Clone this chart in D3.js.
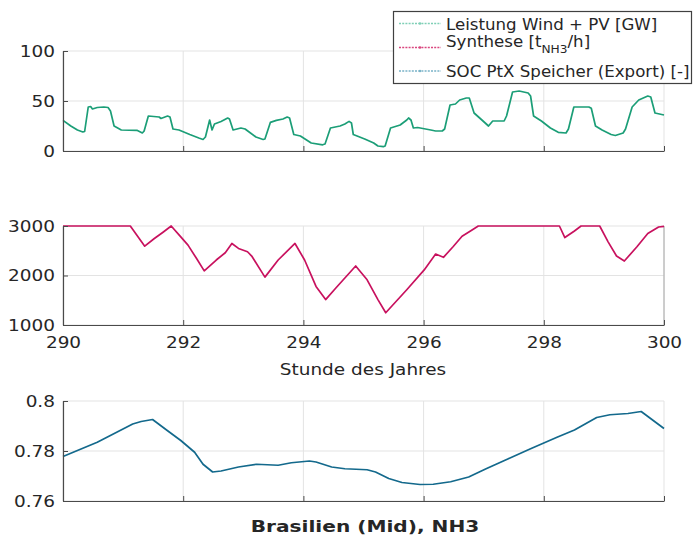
<!DOCTYPE html>
<html><head><meta charset="utf-8">
<script src="https://cdn.jsdelivr.net/npm/d3@7"></script>
<style>html,body{margin:0;padding:0;background:#fff;} text{font-family:"DejaVu Sans",sans-serif;fill:#262626;}</style>
</head><body>
<svg id="c" width="693" height="539"></svg>
<script>
// ---- data ----
const xTicks = [290, 292, 294, 296, 298, 300];
const y1Ticks = [0, 50, 100];
const y2Ticks = [1000, 2000, 3000];
const y3Ticks = [0.76, 0.78, 0.8];
const y3TickLabels = ["0.76", "0.78", "0.8"];

const windHours = [290.00,290.13,290.24,290.33,290.36,290.42,290.46,290.49,290.57,290.68,290.75,290.79,290.85,290.97,291.23,291.32,291.35,291.42,291.60,291.63,291.74,291.78,291.83,291.93,292.11,292.26,292.33,292.37,292.44,292.48,292.52,292.63,292.74,292.77,292.83,292.96,293.03,293.21,293.33,293.36,293.45,293.55,293.66,293.73,293.77,293.84,293.95,294.13,294.32,294.36,294.45,294.61,294.69,294.76,294.80,294.83,295.02,295.17,295.24,295.33,295.36,295.45,295.61,295.72,295.75,295.79,295.83,295.90,296.12,296.20,296.31,296.35,296.44,296.53,296.60,296.71,296.76,296.84,296.97,297.08,297.15,297.34,297.38,297.48,297.59,297.74,297.78,297.83,297.96,298.11,298.24,298.37,298.41,298.50,298.75,298.79,298.86,298.97,299.12,299.19,299.32,299.36,299.47,299.58,299.73,299.78,299.85,300.00];
const windValues = [30.6,25,21,19,19.5,44,44.5,42,43.5,44,43.5,40,25,21,20.7,18,20,35,34,32.5,35,34,22,21,16.5,13,11.5,14,31,21,27,29.5,33,32,21,23,22,14,11.5,12,28.6,30.6,32,34,33,16.5,15,8,6.2,7,23,25,27,29.6,28,16.5,12,8,5,4.3,5,23,26,31,33,31,23,23.5,21,20,20,22,46,47,51,53,53,38,31,25,30,30,35,59,60,58,55,35,30,23,18.7,18,22,44,44,42.7,25,21,16.5,15.5,18,22,44,51,55,54,38,36];

const synHours = [290.00,291.12,291.36,291.52,291.67,291.80,291.96,292.08,292.22,292.35,292.55,292.70,292.81,292.92,293.07,293.14,293.36,293.58,293.86,294.02,294.21,294.37,294.54,294.87,295.06,295.24,295.37,295.72,296.01,296.20,296.33,296.49,296.64,296.78,296.91,298.26,298.35,298.51,298.62,298.93,299.07,299.21,299.34,299.55,299.73,299.91,300.00];
const synValues = [3000,3000,2593,2747,2880,3000,2780,2613,2347,2093,2313,2460,2647,2547,2480,2393,1967,2313,2647,2313,1780,1513,1747,2193,1913,1513,1247,1713,2113,2433,2367,2580,2793,2900,3000,3000,2767,2900,3000,3000,2680,2393,2293,2580,2847,2980,2993];

const socHours = [290.00,290.57,291.16,291.30,291.49,291.74,291.96,292.19,292.33,292.49,292.63,292.92,293.22,293.58,293.80,294.10,294.21,294.47,294.69,295.06,295.20,295.42,295.64,295.94,296.16,296.45,296.75,297.04,297.41,297.78,298.22,298.51,298.88,299.10,299.40,299.62,300.00];
const socValues = [0.7778,0.7835,0.7908,0.7918,0.7926,0.7881,0.7842,0.7795,0.7747,0.7716,0.7720,0.7736,0.7747,0.7743,0.7753,0.7760,0.7756,0.7736,0.7729,0.7725,0.7716,0.7690,0.7674,0.7666,0.7667,0.7677,0.7696,0.7729,0.7769,0.7809,0.7855,0.7884,0.7934,0.7945,0.7950,0.7958,0.7890];

const legendLabels = ["Leistung Wind + PV [GW]", "Synthese [t", "SOC PtX Speicher (Export) [-]"];
const xLabel = "Stunde des Jahres";
const title = "Brasilien (Mid), NH3";

// ---- drawing ----
const svg = d3.select("#c");
const K = 1.12; // horizontal text stretch of the picture
function stretch(sel, k) {
  sel.each(function () {
    const t = d3.select(this);
    const x = +t.attr("x") || 0, y = +t.attr("y") || 0;
    t.attr("x", 0).attr("y", 0).attr("transform", `translate(${x},${y}) scale(${k},1)`);
  });
}

const x = d3.scaleLinear().domain([290, 300]).range([63, 664]);
const panels = [
  { y: d3.scaleLinear().domain([0, 100]).range([151, 51]), ticks: y1Ticks, fmt: d => String(d), hs: windHours, vs: windValues, color: "#1b9e77", xlab: false },
  { y: d3.scaleLinear().domain([1000, 3000]).range([325, 226]), ticks: y2Ticks, fmt: d => String(d), hs: synHours, vs: synValues, color: "#c8115e", xlab: true, rightBox: true },
  { y: d3.scaleLinear().domain([0.76, 0.8]).range([501, 401]), ticks: y3Ticks, fmt: (d, i) => y3TickLabels[i], hs: socHours, vs: socValues, color: "#13698c", xlab: false }
];

panels.forEach(p => {
  const g = svg.append("g");
  const [yb, yt] = p.y.range();
  // grid
  g.selectAll(".gx").data(xTicks).join("line")
    .attr("x1", d => x(d)).attr("x2", d => x(d)).attr("y1", yb).attr("y2", yt)
    .attr("stroke", "#e3e3e3").attr("stroke-width", 1);
  g.selectAll(".gy").data(p.ticks).join("line")
    .attr("x1", x.range()[0]).attr("x2", x.range()[1]).attr("y1", d => p.y(d)).attr("y2", d => p.y(d))
    .attr("stroke", "#e3e3e3").attr("stroke-width", 1);
  if (p.rightBox) {
    g.append("line").attr("x1", x.range()[1]).attr("x2", x.range()[1]).attr("y1", yb).attr("y2", yt)
      .attr("stroke", "#a8a8a8").attr("stroke-width", 1);
  }
  // line
  const pts = p.hs.map((h, i) => [h, p.vs[i]]);
  g.append("path").datum(pts)
    .attr("d", d3.line().x(d => x(d[0])).y(d => p.y(d[1])))
    .attr("fill", "none").attr("stroke", p.color).attr("stroke-width", 1.7).attr("stroke-linejoin", "round");
  // axes
  const ya = g.append("g").attr("transform", `translate(${x.range()[0]},0)`)
    .call(d3.axisLeft(p.y).tickValues(p.ticks).tickFormat(p.fmt).tickSizeInner(-5).tickSizeOuter(0).tickPadding(8));
  const xa = g.append("g").attr("transform", `translate(0,${yb})`)
    .call(d3.axisBottom(x).tickValues(xTicks).tickFormat(p.xlab ? d3.format("d") : () => "").tickSizeInner(-5).tickSizeOuter(0).tickPadding(11));
  [ya, xa].forEach(a => {
    a.select(".domain").attr("stroke", "#4a4a4a").attr("stroke-width", 1.2);
    a.selectAll(".tick line").attr("stroke", "#4a4a4a");
    a.selectAll("text").attr("font-size", 16.5).attr("fill", "#262626").attr("font-family", "DejaVu Sans");
    stretch(a.selectAll("text"), K);
  });
});

// x label
svg.append("text").attr("x", 363).attr("y", 375).attr("text-anchor", "middle")
  .attr("font-size", 16.5).text(xLabel).call(stretch, K);
// title
svg.append("text").attr("x", 365).attr("y", 532).attr("text-anchor", "middle")
  .attr("font-size", 16.5).attr("font-weight", "bold").attr("fill", "#000").text(title).call(stretch, 1.22);

// legend
const lg = svg.append("g");
lg.append("rect").attr("x", 393.5).attr("y", 11.5).attr("width", 298).attr("height", 72)
  .attr("fill", "#fff").attr("stroke", "#404040").attr("stroke-width", 1.2);
const legColors = ["#7fcfb6", "#d9477f", "#79b3c8"];
const legY = [23.5, 47.5, 71];
const legBase = [30, 49.5, 76.5];
legColors.forEach((c, i) => {
  lg.append("line").attr("x1", 399).attr("x2", 441).attr("y1", legY[i]).attr("y2", legY[i])
    .attr("stroke", c).attr("stroke-width", 1.5).attr("stroke-dasharray", "2,1.2");
  lg.append("circle").attr("cx", 420).attr("cy", legY[i]).attr("r", 1.2).attr("fill", c);
});
lg.append("text").attr("x", 446).attr("y", legBase[0]).attr("font-size", 15).text(legendLabels[0]).call(stretch, 1.11);
const t2 = lg.append("text").attr("x", 446).attr("y", legBase[1] - 3).attr("font-size", 15);
t2.append("tspan").text(legendLabels[1]);
t2.append("tspan").attr("font-size", 11).attr("dy", 6).text("NH3");
t2.append("tspan").attr("dy", -6).text("/h]");
t2.call(stretch, 1.11);
lg.append("text").attr("x", 446).attr("y", legBase[2]).attr("font-size", 15).text(legendLabels[2]).call(stretch, 1.11);
</script>
</body></html>
